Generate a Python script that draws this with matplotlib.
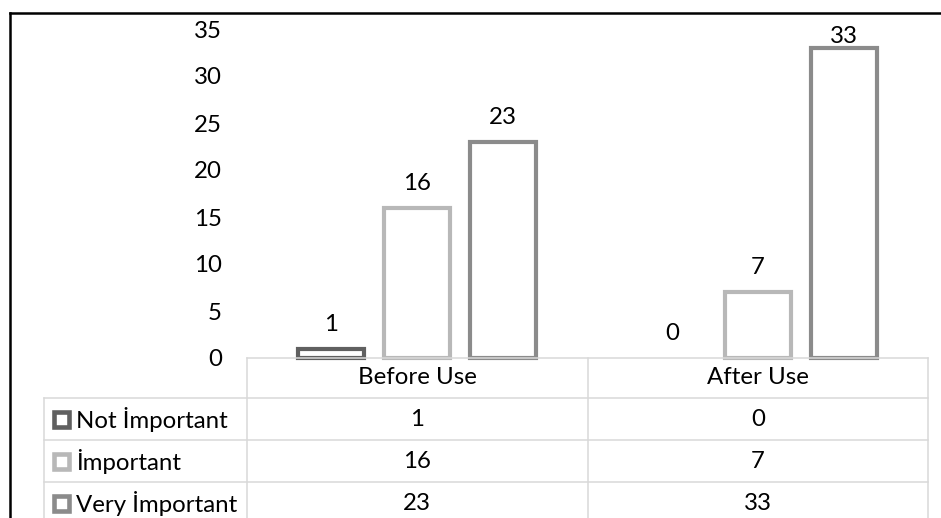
import numpy as np
import matplotlib
matplotlib.use("Agg")
import matplotlib.pyplot as plt
from matplotlib.lines import Line2D
from matplotlib.patches import Rectangle

plt.rcParams['font.family'] = ['Lato', 'DejaVu Sans']

# survey answers, before and after using the tool
categories = ["Before Use", "After Use"]
series_names = ["Not İmportant", "İmportant", "Very İmportant"]
not_important = [1, 0]
important = [16, 7]
very_important = [23, 33]
series_values = [not_important, important, very_important]
series_colors = ["#606060", "#b8b8b8", "#8b8b8b"]
y_ticks = [0, 5, 10, 15, 20, 25, 30, 35]

W, H = 941, 518
FS = 17.3


def fx(px):
    return px / W


def fy(py):
    return 1 - py / H


fig = plt.figure(figsize=(W / 100, H / 100), dpi=100)

# plot area sits directly on top of the data table
left_px, right_px, top_px, base_px = 247, 928, 29, 358
ax = fig.add_axes([fx(left_px), fy(base_px),
                   (right_px - left_px) / W, (base_px - top_px) / H])
ax.set_xlim(-0.5, len(categories) - 0.5)
ax.set_ylim(0, 35)
for s in ax.spines.values():
    s.set_visible(False)
ax.set_xticks([])
ax.set_yticks(y_ticks)
ax.tick_params(axis='y', length=0, pad=18, labelsize=FS)

ppu = (base_px - top_px) / 35.0  # pixels per unit
x = np.arange(len(categories))
step = 0.2526
width = 0.194
for i, (vals, col) in enumerate(zip(series_values, series_colors)):
    xs = x + (i - 1) * step
    bars = ax.bar(xs, vals, width=width, facecolor='white', edgecolor=col,
                  linewidth=3.0, clip_on=False, zorder=3)
    for b, v, xx in zip(bars, vals, xs):
        b.set_visible(v > 0)
        ty = min(v + 18 / ppu, 33.5)
        ax.text(xx, ty, str(v), ha='center', va='baseline', fontsize=FS,
                color='black', clip_on=False)

# data table below the bars
grid = dict(color='#d9d9d9', linewidth=1.1, transform=fig.transFigure)
col_edges = [left_px, (left_px + right_px) / 2, right_px]
rows = [358, 398, 440, 482]
label_left = 44
fig.add_artist(Line2D([fx(left_px), fx(right_px)], [fy(rows[0])] * 2, **grid))
for r in rows[1:]:
    fig.add_artist(Line2D([fx(label_left), fx(right_px)], [fy(r)] * 2, **grid))
for c in col_edges:
    fig.add_artist(Line2D([fx(c)] * 2, [fy(rows[0]), 0], **grid))
fig.add_artist(Line2D([fx(label_left)] * 2, [fy(rows[1]), 0], **grid))

centers = [(col_edges[j] + col_edges[j + 1]) / 2 for j in range(len(categories))]
for cx, cat in zip(centers, categories):
    fig.text(fx(cx), fy((rows[0] + rows[1]) / 2), cat, ha='center', va='center',
             fontsize=FS)

row_centers = [(rows[1] + rows[2]) / 2, (rows[2] + rows[3]) / 2, rows[3] + 21]
for rc, name, vals, col in zip(row_centers, series_names, series_values, series_colors):
    key = Rectangle((fx(54), fy(rc + 7.5)), 14.5 / W, 14.5 / H, facecolor='white',
                    edgecolor=col, linewidth=3.3, transform=fig.transFigure)
    fig.add_artist(key)
    fig.text(fx(76), fy(rc), name, ha='left', va='center', fontsize=FS)
    for cx, v in zip(centers, vals):
        fig.text(fx(cx), fy(rc), str(v), ha='center', va='center', fontsize=FS)

# outer frame (top and left edges)
frame = dict(color='black', linewidth=1.8, transform=fig.transFigure)
fig.add_artist(Line2D([fx(10), 1], [fy(13)] * 2, **frame))
fig.add_artist(Line2D([fx(10)] * 2, [fy(13), 0], **frame))

fig.savefig("out.png", dpi=100)
